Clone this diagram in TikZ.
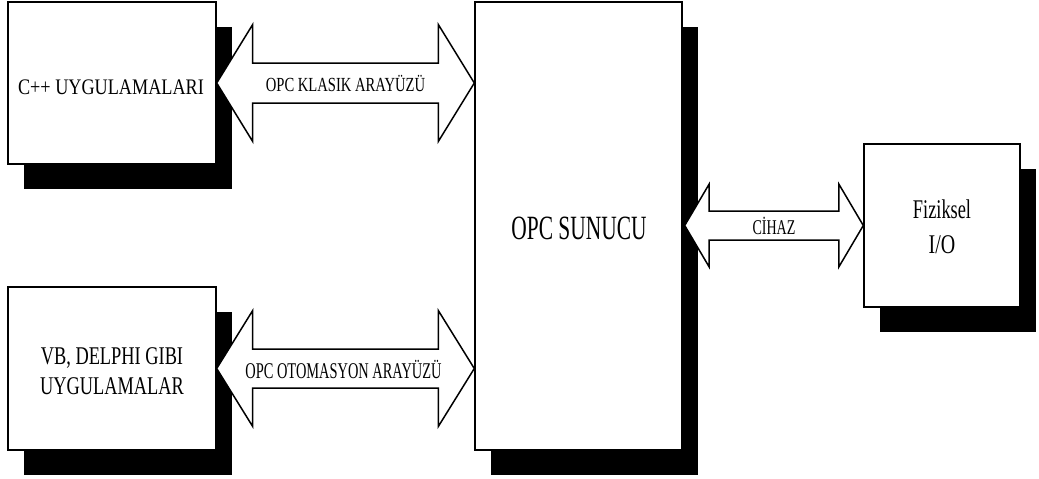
\documentclass[tikz,border=0pt]{standalone}
\usepackage{fontspec}
\setmainfont{Liberation Serif}
\usepackage{graphicx}
\usetikzlibrary{calc,shadows}

% horizontally condensed text
\newcommand\sx[2]{\scalebox{#1}[1]{#2}}

% wide double-headed arrow between two tip points
% #1 left tip, #2 right tip, #3 head length, #4 head half height, #5 shaft half height
\newcommand\widearrow[5]{%
  \draw[wide] (#1) -- ++(#3,-#4) -- ++(0,#4-#5) -- ($(#2)+(-#3,-#5)$)
    -- ++(0,-#4+#5) -- (#2) -- ++(-#3,#4) -- ++(0,-#4+#5)
    -- ($(#1)+(#3,#5)$) -- ++(0,#4-#5) -- cycle;}

\begin{document}
\begin{tikzpicture}[x=1pt,y=-1pt,
  block/.style={draw, line width=1.4pt, fill=white, inner sep=0pt,
    drop shadow={shadow xshift=16pt, shadow yshift=-25pt, fill=black, opacity=1}},
  wide/.style={draw, line width=1.5pt, fill=white, line join=miter},
  lab/.style={inner sep=0pt, anchor=base},
  mlab/.style={inner sep=0pt, anchor=center, align=center}]
\useasboundingbox (0,0) rectangle (1039,479);

% blocks
\node[block, minimum width=208pt, minimum height=162pt] (app1) at (112,83) {};
\node[block, minimum width=208pt, minimum height=163pt] (app2) at (112,368.5) {};
\node[block, minimum width=207pt, minimum height=448pt] (opc) at (578.5,226) {};
\node[block, minimum width=156pt, minimum height=163pt] (io) at (942,225.5) {};

% block labels
\node[lab, font=\fontsize{22.2}{26}\selectfont] (t1) at ($(app1.center)+(-1,11)$)
  {\sx{.82}{C++ UYGULAMALARI}};
\node[mlab, font=\fontsize{25.5}{30}\selectfont] (t2) at ($(app2.center)+(0,3)$)
  {\sx{.72}{VB, DELPHI GIBI}\\\sx{.72}{UYGULAMALAR}};
\node[lab, font=\fontsize{34}{40}\selectfont] (t3) at ($(opc.center)+(0.5,13.3)$)
  {\sx{.63}{OPC SUNUCU}};
\node[mlab, font=\fontsize{27}{35}\selectfont] (t4) at ($(io.center)+(0,1)$)
  {\sx{.68}{Fiziksel}\\\sx{.74}{I/O}};

% interface arrows
\coordinate (a1l) at (app1.east);
\coordinate (a1r) at (app1.east -| opc.west);
\widearrow{a1l}{a1r}{36}{58.5}{20}
\node[lab, font=\fontsize{20}{24}\selectfont] (l1) at ($(a1l)!.5!(a1r)+(0,8)$)
  {\sx{.73}{OPC KLASIK ARAYÜZÜ}};

\coordinate (a2l) at (app2.east);
\coordinate (a2r) at (app2.east -| opc.west);
\widearrow{a2l}{a2r}{36}{58}{19.5}
\node[lab, font=\fontsize{22.5}{26}\selectfont] (l2) at ($(a2l)!.5!(a2r)+(-2,9.5)$)
  {\sx{.64}{OPC OTOMASYON ARAYÜZÜ}};

\coordinate (a3l) at ($(io.west -| opc.east)+(2,0)$);
\coordinate (a3r) at (io.west);
\widearrow{a3l}{a3r}{24.5}{41.5}{14.5}
\node[lab, font=\fontsize{21}{25}\selectfont] (l3) at ($(a3l)!.5!(a3r)+(0,8.8)$)
  {\sx{.67}{CİHAZ}};
\end{tikzpicture}
\end{document}
